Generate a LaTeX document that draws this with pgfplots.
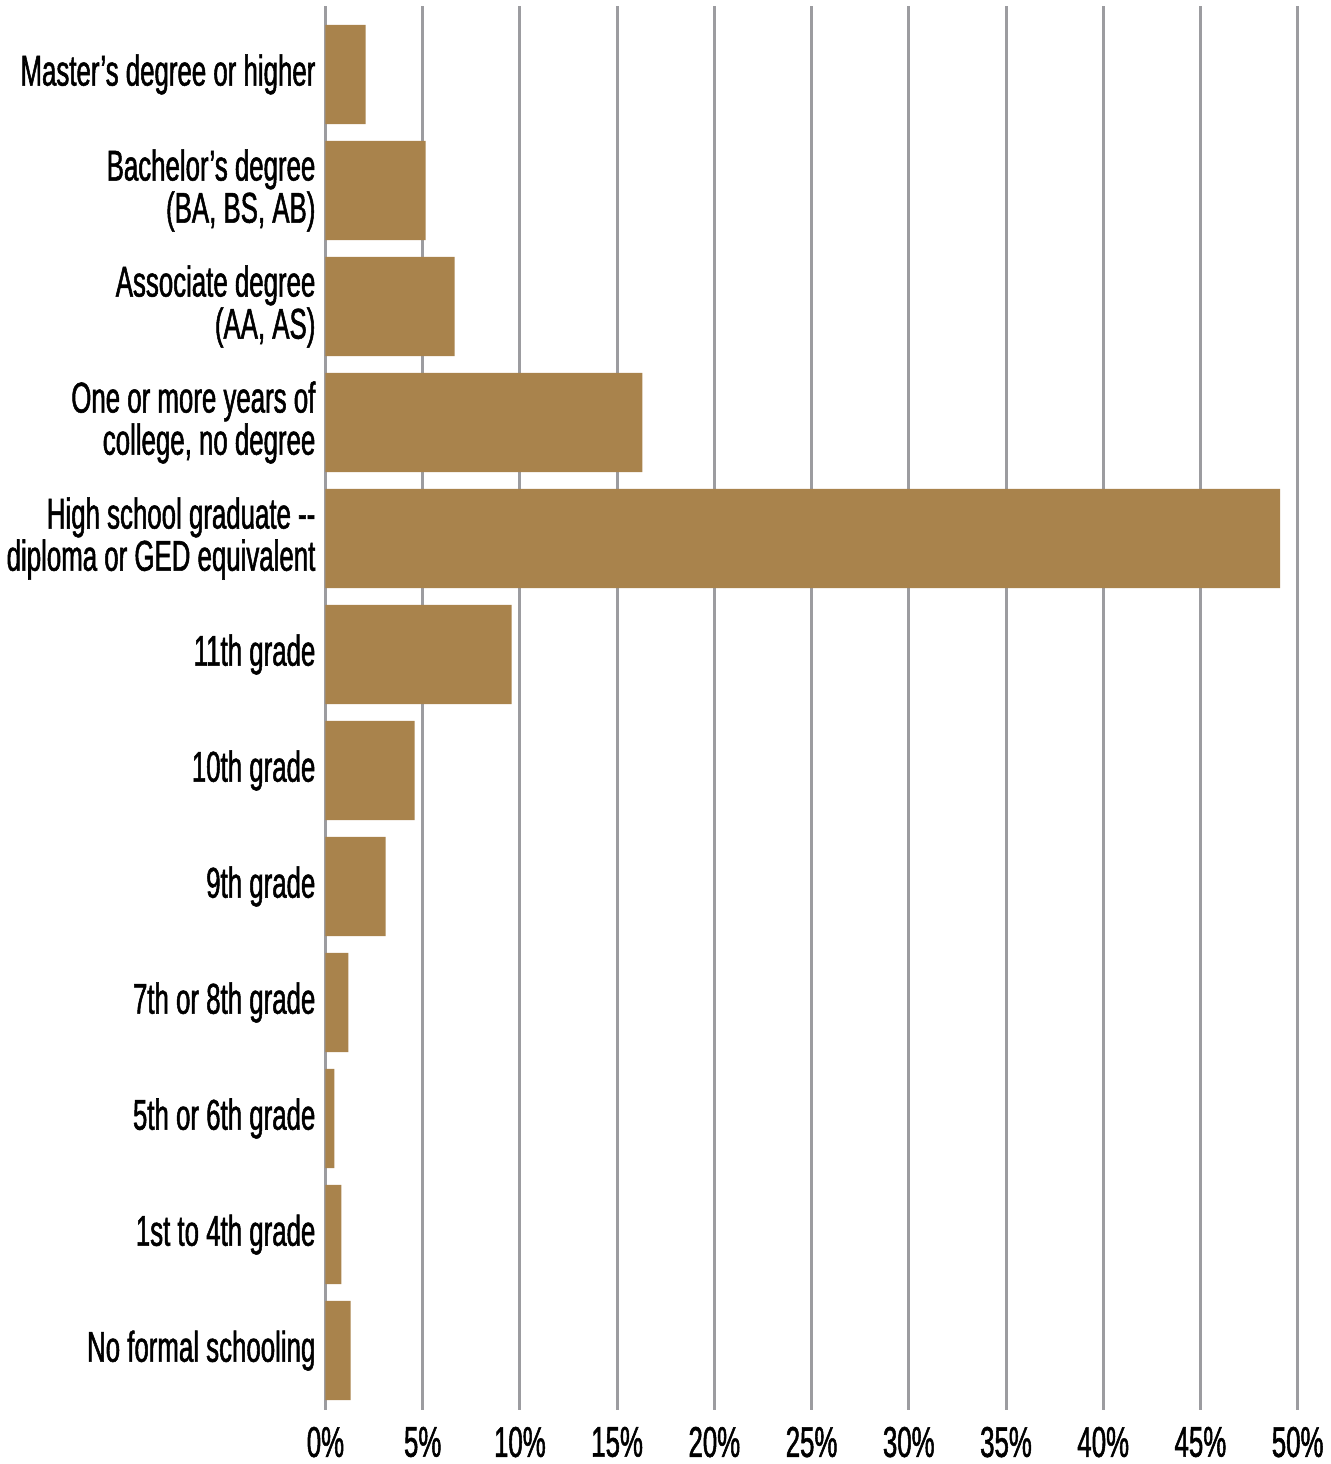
\documentclass[border=0pt]{standalone}
\usepackage{pgfplots}
\pgfplotsset{compat=1.18}
\usepackage{fontspec}
\setmainfont[FakeStretch=0.6, FakeBold=1.2]{Liberation Sans}
\definecolor{barc}{HTML}{A9834C}
\definecolor{gridc}{HTML}{9C9CA0}
\begin{document}
\begin{tikzpicture}
\begin{axis}[
  xbar,
  scale only axis,
  width=485.5pt, height=701pt,
  xmin=0, xmax=50,
  ymin=-0.51, ymax=11.59,
  bar width=0.855,
  bar shift=0pt,
  axis line style={draw=none},
  xtick={0,5,...,50},
  xmajorgrids,
  major grid style={gridc, line width=1.5pt},
  major tick length=0pt,
  ytick={0,...,11},
  yticklabels={No formal schooling,1st to 4th grade,5th or 6th grade,7th or 8th grade,9th grade,10th grade,11th grade,{High school graduate -{}-\\diploma or GED equivalent},{One or more years of\\college, no degree},{Associate degree\\(AA, AS)},{Bachelor’s degree\\(BA, BS, AB)},Master’s degree or higher},
  yticklabel style={align=right, font=\fontsize{21.5}{19}\selectfont, xshift=-1.5pt},
  xticklabel style={font=\fontsize{21.5}{19}\selectfont, yshift=-5pt},
  /pgf/number format/assume math mode=true,
  xticklabel={\pgfmathprintnumber{\tick}\%},
  clip=false,
]
\addplot[fill=barc, draw=none] coordinates {
(1.29,0) (0.82,1) (0.46,2) (1.18,3) (3.09,4) (4.58,5) (9.58,6) (49.1,7) (16.3,8) (6.64,9) (5.15,10) (2.06,11)
};
\path (rel axis cs:0,1) ++(0pt,3pt);
\end{axis}
\end{tikzpicture}
\end{document}
